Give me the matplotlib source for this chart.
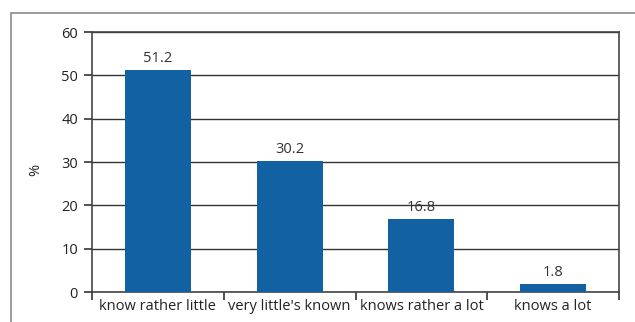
import matplotlib
matplotlib.use("Agg")
import matplotlib.pyplot as plt
from matplotlib.patches import Rectangle

categories = ["know rather little", "very little's known", "knows rather a lot", "knows a lot"]
values = [51.2, 30.2, 16.8, 1.8]
yticks = [0, 10, 20, 30, 40, 50, 60]

plt.rcParams['font.family'] = ['Open Sans', 'DejaVu Sans']

W, H = 635, 322
fig = plt.figure(figsize=(W/100, H/100), dpi=100)
# outer border
fig.patches.append(Rectangle((10.5/W, -0.1), 2, (H-13.5)/H + 0.1, transform=fig.transFigure,
                             fill=False, edgecolor='#8a8a8a', linewidth=1.2))

ax = fig.add_axes([92/W, 1-292/H, (619-92)/W, (292-32)/H])
x = range(len(categories))
ax.bar(x, values, width=0.5, color='#1161A3', zorder=3)
for i, v in enumerate(values):
    ax.text(i, v + 0.9, f"{v}", ha='center', va='bottom', fontsize=10.5, color='#333333')

ax.set_xlim(-0.5, len(categories) - 0.5)
ax.set_ylim(0, 60)
ax.set_yticks(yticks)
ax.yaxis.grid(True, color='#333333', linewidth=1.0, zorder=1)
ax.set_axisbelow(True)
ax.set_xticks([i - 0.5 for i in range(len(categories) + 1)], minor=False)
ax.set_xticklabels([])
ax.set_xticks(list(x), minor=True)
ax.set_xticklabels(categories, minor=True, fontsize=10.5, color='#222222')
ax.tick_params(axis='x', which='major', length=6, width=1.2, color='#333333', direction='out')
ax.tick_params(axis='x', which='minor', length=0, pad=5)
ax.tick_params(axis='y', length=6, width=1.2, color='#333333', labelsize=10.5, labelcolor='#222222', pad=4)
for s in ax.spines.values():
    s.set_color('#444444')
    s.set_linewidth(1.2)
ax.set_ylabel('%', fontsize=10.5, color='#222222')
ax.yaxis.set_label_coords((43 - 92) / (619 - 92), 0.47)

fig.savefig('out.png', dpi=100)
